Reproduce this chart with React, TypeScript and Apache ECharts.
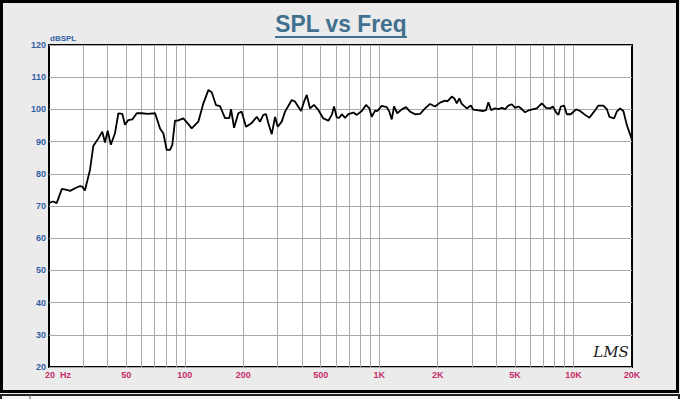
import React, { useEffect, useRef } from "react";
import * as echarts from "echarts";

const freqHz = [
  20, 21, 21.9, 23.3, 24.7, 25.7, 27.2, 28.9, 29.7, 30.6,
  32.5, 33.8, 35.9, 37.6, 38.8, 40.1, 41.6, 43.7, 45.5, 47.7,
  49.2, 51.2, 53.7, 56.6, 60, 64.6, 70.3, 74.5, 77.5, 80.7,
  83.9, 86.2, 89, 91.9, 98.2, 104, 108.5, 117.3, 124.5, 132.1,
  137.5, 144.7, 151.7, 161, 169.4, 172.9, 179.2, 188.5, 196.2, 206.4,
  221, 234.5, 243.8, 253.4, 261.8, 269, 280.2, 291.2, 300.6, 315.2,
  327.8, 355, 369.2, 396.4, 410.6, 424, 440.8, 462.2, 486.4, 516,
  547.6, 570.2, 586, 605, 624, 641.8, 667.6, 694.2, 736.6, 767,
  813.8, 856.2, 890.2, 915.8, 952.4, 978.8, 1031, 1094, 1128, 1161,
  1193, 1240, 1307, 1375, 1442, 1530, 1624, 1723, 1828, 1939,
  2057, 2184, 2244, 2364, 2438, 2508, 2586, 2661, 2824, 2961,
  3054, 3179, 3438, 3550, 3648, 3766, 3949, 4106, 4276, 4446,
  4624, 4814, 5006, 5206, 5420, 5636, 5930, 6218, 6474, 6868,
  7228, 7578, 7824, 8138, 8362, 8604, 8946, 9236, 9684, 10312,
  10812, 11472, 12072, 12762, 13430, 14250, 14836, 15300, 16178, 16704,
  17372, 18058, 18802, 20000,
];

const splDb = [
  71, 71.4, 70.9, 75.3, 75, 74.7, 75.5, 76.2, 76, 74.8,
  81.2, 88.6, 91, 93.1, 89.7, 93.4, 89, 92.6, 98.8, 98.6,
  95.2, 96.7, 96.9, 98.8, 98.8, 98.6, 98.8, 94.1, 92.6, 87.4,
  87.4, 89, 96.5, 96.5, 97.2, 95.5, 94.1, 96.2, 101.8, 106,
  105.3, 101.3, 101, 97.3, 97.3, 100.1, 94.3, 98.8, 99.3, 94.6,
  95.8, 97.7, 96.2, 98.3, 98.5, 95.7, 92.3, 97.7, 94.6, 96.2,
  99.3, 102.9, 102.4, 99.5, 102.4, 104.5, 100.3, 101.4, 99.8, 97.2,
  96.5, 98.3, 100.9, 97.5, 97.4, 98.5, 97.4, 98.5, 99, 98.3,
  99.5, 101.4, 100.3, 97.7, 99.6, 99.5, 101.1, 100.7, 99.3, 96.9,
  100.9, 98.8, 100, 100.7, 99.3, 98.5, 98.6, 100.3, 101.7, 100.9,
  102.1, 102.7, 102.5, 104, 103.4, 101.9, 103.4, 101.7, 100.3, 101.2,
  99.9, 99.8, 99.5, 99.8, 102.2, 99.8, 100.3, 100.1, 100.5, 100.1,
  101.2, 101.6, 100.5, 100.9, 100.1, 99.1, 99.8, 100.1, 100.3, 101.9,
  100.5, 100.3, 100.9, 99.1, 98.3, 100.9, 101.2, 98.5, 98.5, 100,
  99.5, 98.3, 97.4, 99.3, 101.2, 101.2, 100.1, 97.7, 97.2, 99.3,
  100.3, 99.5, 95.2, 90.5,
];

const xTickValues = [20, 50, 100, 200, 500, 1000, 2000, 5000, 10000, 20000];
const xTickLabels = ["20  Hz", "50", "100", "200", "500", "1K", "2K", "5K", "10K", "20K"];
const gridFreqs = [
  30, 40, 50, 60, 70, 80, 90,
  100, 200, 300, 400, 500, 600, 700, 800, 900,
  1000, 2000, 3000, 4000, 5000, 6000, 7000, 8000, 9000, 10000,
];
const yMin = 20;
const yMax = 120;
const yStep = 10;
const titleText = "SPL vs Freq";
const yUnitText = "dBSPL";
const logoText = "LMS";

export default function App() {
  const ref = useRef<HTMLDivElement>(null);
  useEffect(() => {
    document.body.style.margin = "0";
    const el = ref.current!;
    const chart = echarts.init(el, null, { renderer: "svg" });
    const gridColor = "#a9a9a9";
    const titleColor = "#41708f";
    const yLabelColor = "#3461a6";
    const xLabelColor = "#c42d6a";
    const font = "Liberation Sans, Arial, sans-serif";

    chart.setOption({
      animation: false,
      backgroundColor: "#ebebeb",
      grid: {
        left: 49,
        top: 45,
        width: 583,
        height: 322,
        show: true,
        backgroundColor: "#ffffff",
        borderColor: "#000000",
        borderWidth: 2,
      },
      xAxis: {
        type: "log",
        logBase: 10,
        min: 20,
        max: 20000,
        axisLabel: { show: false },
        axisTick: { show: false },
        axisLine: { show: false },
        splitLine: { show: false },
      },
      yAxis: {
        type: "value",
        min: yMin,
        max: yMax,
        interval: yStep,
        axisLine: { show: false },
        axisTick: { show: false },
        splitLine: { show: true, lineStyle: { color: gridColor, width: 1 } },
        axisLabel: {
          color: yLabelColor,
          fontWeight: "bold",
          fontSize: 9,
          fontFamily: font,
          margin: 3,
        },
      },
      series: [
        {
          type: "line",
          z: 1,
          silent: true,
          data: [],
          markLine: {
            silent: true,
            z: 1,
            symbol: ["none", "none"],
            label: { show: false },
            lineStyle: { color: gridColor, width: 1, type: "solid" },
            emphasis: { disabled: true },
            data: gridFreqs.map((f) => ({ xAxis: f })),
          },
        },
        {
          type: "line",
          z: 3,
          silent: true,
          symbol: "none",
          smooth: false,
          lineStyle: { color: "#000000", width: 1.8 },
          data: freqHz.map((f, i) => [f, splDb[i]]),
        },
      ],
    });

    const labelY = 375;
    const xLabels = xTickValues.map((f, i) => {
      const px = chart.convertToPixel({ xAxisIndex: 0 }, f) as number;
      const first = i === 0;
      return {
        type: "text",
        z: 100,
        x: first ? px - 4 : px,
        y: labelY,
        style: {
          text: xTickLabels[i],
          fill: xLabelColor,
          font: `bold 9px ${font}`,
          align: first ? "left" : "center",
          verticalAlign: "middle",
        },
      };
    });

    chart.setOption({
      graphic: [
        {
          type: "rect",
          z: 50,
          shape: { x: 1.5, y: 1.5, width: 676, height: 390 },
          style: { fill: "none", stroke: "#000000", lineWidth: 3 },
        },
        {
          type: "rect",
          z: 50,
          shape: { x: 1, y: 395, width: 678, height: 10 },
          style: { fill: "#f6f6f6", stroke: "#222222", lineWidth: 2 },
        },
        {
          type: "line",
          z: 51,
          shape: { x1: 30, y1: 395, x2: 30, y2: 399 },
          style: { stroke: "#555555", lineWidth: 1 },
        },
        {
          type: "text",
          z: 100,
          x: 341,
          y: 24,
          scaleX: 0.95,
          style: {
            text: titleText,
            fill: titleColor,
            font: `bold 24px ${font}`,
            align: "center",
            verticalAlign: "middle",
          },
        },
        {
          type: "line",
          z: 100,
          shape: { x1: 275, y1: 37, x2: 407, y2: 37 },
          style: { stroke: titleColor, lineWidth: 2 },
        },
        {
          type: "text",
          z: 100,
          x: 50,
          y: 38,
          style: {
            text: yUnitText,
            fill: yLabelColor,
            font: `bold 8px ${font}`,
            align: "left",
            verticalAlign: "middle",
          },
        },
        {
          type: "text",
          z: 100,
          x: 611,
          y: 352,
          style: {
            text: logoText,
            fill: "#1a1a1a",
            font: `italic 15px DejaVu Serif, serif`,
            align: "center",
            verticalAlign: "middle",
          },
        },
        ...xLabels,
      ],
    });

    return () => chart.dispose();
  }, []);
  return <div ref={ref} style={{ width: 680, height: 399 }} />;
}
